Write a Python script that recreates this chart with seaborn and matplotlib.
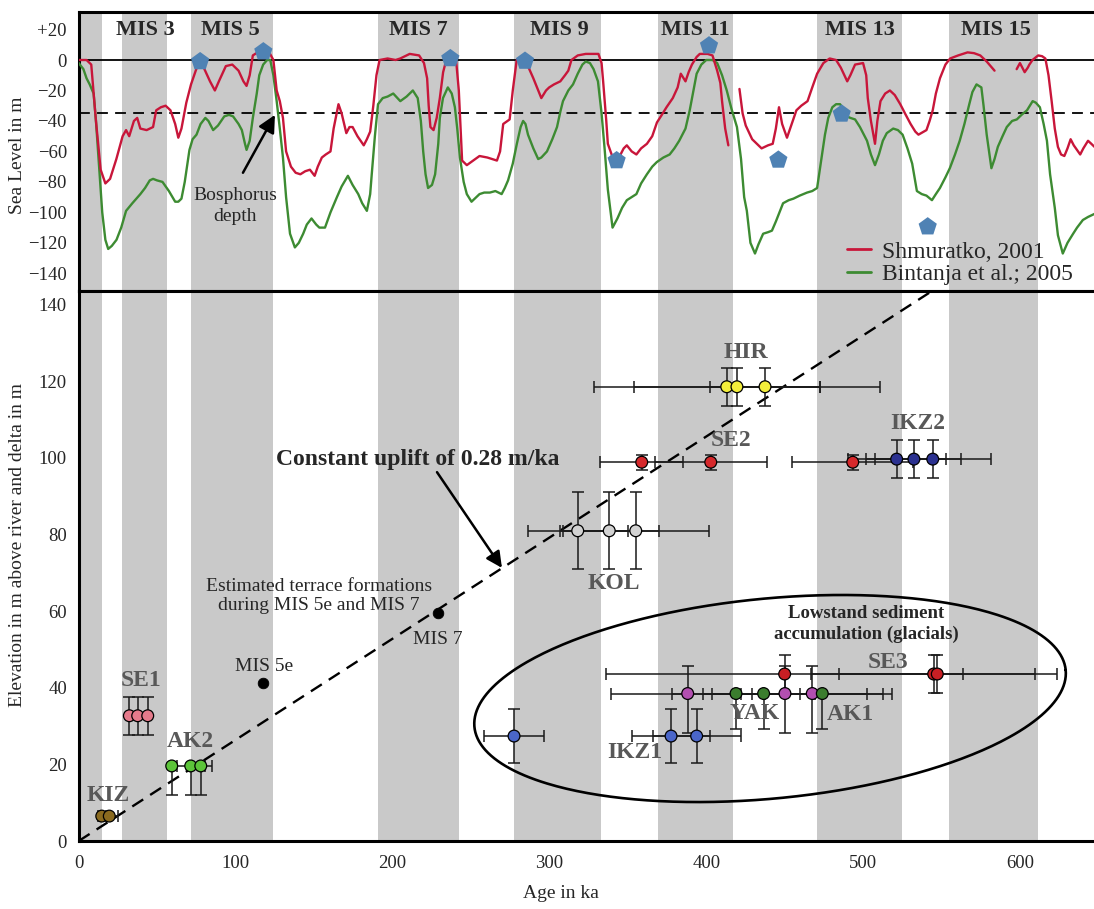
import numpy as np
import pandas as pd
import matplotlib
matplotlib.use("Agg")
import matplotlib.pyplot as plt
from matplotlib.lines import Line2D
from matplotlib.ticker import FixedLocator, FuncFormatter
import seaborn as sns

# ------------------------------------------------------------------ data
mis_band_start = [0, 27.6, 71.6, 190.8, 277.5, 369.3, 470.6, 554.8]
mis_band_end = [14.9, 56.3, 123.9, 242.4, 332.9, 417.1, 524.8, 611.5]
mis_labels = ["MIS 3", "MIS 5", "MIS 7", "MIS 9", "MIS 11", "MIS 13", "MIS 15"]
mis_label_age = [42.3, 96.8, 216.7, 306.5, 393.2, 498.2, 584.6]

# Shmuratko (2001) sea level curve, three segments (gaps in the record)
shm_age_1 = [0, 5, 8, 11, 14, 17, 20, 24, 28, 30.2, 32.2, 35.2, 37.3, 39.3, 43.3, 47.4, 49.4, 52.4,
             55.4, 58.5, 61.5, 63.5, 65.5, 68.6, 71.6, 74.6, 77.2, 79.7, 83.7, 86.8, 89.8, 93.8,
             97.9, 101.9, 105, 107, 109, 111, 114, 118, 122, 124.1, 126.2, 128.2, 130.2, 132.2,
             135.3, 138.3, 141.3, 144.4, 147.4, 150.4, 152.4, 155, 157.5, 160.5, 162.5, 165.6,
             167.6, 170.6, 172.6, 174.6, 177.7, 181.7, 183.7, 185.8, 187.8, 189.8, 191.8, 196.9,
             202, 205, 211, 217, 220.1, 222.1, 223.1, 224.2, 226.2, 228.2, 230.2, 232.3, 234.3,
             237.3, 240.3, 242.3, 244.4, 247.4, 251.4, 255.5, 260.5, 266.6, 268.6, 270.6, 274.7,
             276.7, 279.2, 283.8, 286.8, 289.8, 292.9, 294.9, 297.9, 299.9, 303, 307, 310, 312.1,
             314.1, 318.1, 323.2, 331.3, 333.3, 334.3, 336.3, 337.3, 340.4, 342.4, 345.4, 347.4,
             349.4, 352.5, 355.5, 358.5, 362.2, 365.6, 368.6, 371.7, 374.7, 378.7, 381.8, 383.8,
             386.8, 388.8, 390.9, 393.9, 395.9, 400.9, 404, 407, 409, 410.1, 412.1, 414.1]
shm_sl_1 = [0, 0, -3, -40, -72, -81, -78, -65, -50, -46, -50, -40, -38, -45, -46, -44, -33, -31,
            -30, -33, -42, -51, -45, -28, -16, -7, 0, -5, -14, -20, -13, -4,
            -3, -7, -14, -17, -10, 3, 5, 6, 4, 0, -20, -27, -38, -60,
            -70, -74, -75, -73, -72, -76, -70, -64, -62, -60, -45, -29,
            -35, -48, -44, -44, -50, -56, -52, -47, -30, -10, 0, 1,
            0, 1, 4, 3, -2, -12, -30, -44, -46, -38, -25, -8, 0,
            3, 3, -20, -66, -69, -66, -63, -64, -66, -60, -42, -39,
            -20, 0, 1, -5, -12, -20, -25, -20, -18, -16, -14, -10, -7,
            0, 3, 4, 4, -2, -14, -40, -55, -64, -66, -62, -58,
            -56, -60, -62, -58, -55, -50, -41, -36, -31, -25, -18, -9,
            -14, -8, -3, 2, 4, 4, 3, -7, -15, -27, -45, -56]
shm_age_2 = [421.2, 423.2, 425.2, 429.3, 435.3, 439.4, 442.4, 444.4, 446.4, 448.4, 451.5, 454.5,
             457.5, 460.6, 464.6, 467.6, 470.7, 474.7, 478.7, 482.8, 485.8, 489.9, 491.9, 494.9,
             500, 502, 503, 505, 507.6, 509.1, 511.1, 514.1, 517.1, 520.2, 523.7, 527.2, 530.3,
             533.3, 535.3, 540.4, 542.4, 544.4, 546.4, 549, 552.5, 555.5, 560.6, 566.6, 570.7,
             574.7, 578.8, 583.8]
shm_sl_2 = [-19, -35, -43, -52, -58, -56, -55, -45, -31, -42, -51, -42,
            -33, -30, -27, -18, -9, -2, 1, 0, -5, -14, -10, -3,
            -2, -10, -25, -40, -55, -40, -27, -22, -20, -23, -29, -36, -42,
            -47, -49, -46, -40, -33, -22, -12, -3, 1, 3, 5, 4.5,
            3, -1, -7]
shm_age_3 = [597.9, 600, 602, 603, 605, 606, 608, 611.6, 614.1, 616.2, 618.2, 620.2, 622.2, 624.2,
             626.2, 628.3, 630.3, 632.3, 634.3, 638.4, 640.4, 643.4, 645.5, 647.5]
shm_sl_3 = [-6, -2, -6, -8, -5, -3, 0, 3, 2.5, 1, -10, -27, -45, -57,
            -62, -63, -58, -52, -56, -62, -58, -53, -55, -57]

# Bintanja et al. (2005) sea level curve
bin_age = [0, 3, 5, 7, 9.5, 11, 13, 15, 17, 18.8, 21.1, 24.1, 27.1, 30.2, 34.2, 39.3, 42.3, 45.3,
           47.4, 49.9, 53.4, 57.5, 61.5, 63.5, 65.5, 67.6, 70.6, 72.6, 75.1, 77.7, 80.7, 82.7,
           85.7, 88.8, 92.8, 95.8, 98.4, 101.9, 104, 106, 107, 109, 111, 113.5, 115.1, 117.6,
           120.1, 122.1, 124.1, 126.2, 128.2, 130.2, 132.2, 134.7, 137.8, 140.3, 143.1, 145.4,
           148.4, 151.4, 153.4, 157, 160.5, 164.6, 167.6, 171.6, 174.6, 178.2, 180.7, 183.7,
           185.8, 186.8, 188.8, 190.8, 193.8, 196.9, 200.5, 205, 209, 213, 216.1, 218.1, 219.6,
           221.1, 222.7, 225.2, 227.2, 229.2, 230.2, 232.2, 235.3, 237.8, 239.8, 241.3, 243,
           245.4, 247.4, 250.4, 252.4, 255.5, 258.5, 262.1, 265.6, 269.6, 271.6, 273.7, 276.7,
           279.3, 281.7, 283.3, 284.8, 286.4, 289.8, 292.9, 294.9, 298.5, 301.9, 304.9, 307,
           308.7, 312.1, 315.1, 318.1, 321.1, 323.2, 325.9, 328.2, 331, 333.3, 335.3, 337.3,
           340.3, 343.4, 346.4, 349.4, 352.5, 355.5, 358.5, 362.2, 365.6, 368.5, 372.7, 376.7,
           379.7, 382.8, 386.8, 389.5, 391.9, 393.9, 396.9, 400, 404, 407, 410.1, 413.1, 416.1,
           419.6, 422.2, 424.2, 425.9, 428.2, 431.1, 433.3, 436.3, 439.4, 441.9, 444.4, 447.1,
           449, 452.6, 455.6, 459.6, 464.3, 467.6, 470.7, 472.7, 475.7, 477.8, 480.4, 482.8,
           485.3, 486.8, 489.7, 491.9, 494.9, 498, 502.5, 505, 507.6, 510.1, 512.6, 515.1,
           519.2, 522.2, 525.2, 528.3, 531.3, 534.3, 537.4, 540.4, 543.9, 546.4, 549, 552.5,
           555.3, 558.6, 561.6, 564.6, 567.7, 569.7, 572.3, 575.4, 576.8, 578.8, 581.8, 583.8,
           585.9, 588.9, 591.6, 595, 598, 601, 604.5, 608.1, 610.1, 612.7, 615.1, 617.2, 619.2,
           622.2, 624.2, 627.3, 630.3, 633.9, 636.4, 640.1, 643.4, 647.5]
bin_sl = [-2, -6, -12, -16, -22, -40, -70, -100, -118, -124, -122, -118, -110, -99, -94, -88, -84, -79,
          -78, -79, -80, -86, -93, -93, -91, -80, -59, -52, -49, -42, -38, -40,
          -46, -43, -37, -36, -37, -42, -46, -55, -59, -53, -38, -22, -10, -3,
          0, 0, -10, -27, -45, -64, -90, -114, -123, -120, -114, -108,
          -104, -108, -110, -110, -100, -90, -83, -76, -82, -88, -94, -99,
          -88, -75, -50, -29, -25, -24, -22, -27, -24, -20, -25, -40, -60,
          -75, -84, -82, -75, -55, -38, -25, -18, -22, -31, -45, -64,
          -80, -88, -93, -91, -88, -87, -87, -86, -88, -84, -79, -68,
          -55, -44, -40, -42, -49, -58, -65, -64, -60, -52, -44, -34,
          -27, -20, -16, -9, -3, -1, -2, -6, -14, -35, -59, -85,
          -110, -104, -97, -92, -90, -88, -81, -75, -70, -67, -64, -62,
          -58, -53, -45, -33, -20, -9, -3, 0, 0, -2, -10, -20, -32,
          -44, -65, -90, -99, -120, -127, -121, -114, -113, -112, -106, -99,
          -94, -92, -91, -89, -87, -86, -84, -70, -49, -38, -31, -29,
          -29, -31, -37, -38, -39, -44, -53, -62, -69, -62, -53, -48,
          -45, -46, -49, -58, -68, -86, -88, -89, -92, -88, -84, -77,
          -71, -62, -53, -42, -29, -21, -16, -18, -30, -49, -71, -65,
          -57, -50, -44, -40, -39, -36, -33, -27, -28, -31, -42, -53, -75,
          -97, -115, -127, -120, -114, -110, -105, -103, -101]

# sea-level highstand / lowstand markers (pentagons)
pent_age = [77.4, 117.7, 236.9, 284.5, 342.9, 401.8, 446.0, 486.4, 541.2]
pent_sl = [-1, 5.5, 1, -0.7, -66, 9.4, -65.6, -35.4, -109.4]
bosphorus_depth = -35

# terrace dating points (age ka, elevation m, errors)
pt_group = ["KIZ", "KIZ", "SE1", "SE1", "SE1", "AK2", "AK2", "AK2", "KOL", "KOL", "KOL",
            "SE2", "SE2", "SE2", "HIR", "HIR", "HIR", "IKZ2", "IKZ2", "IKZ2",
            "IKZ1", "IKZ1", "IKZ1", "VIO", "VIO", "VIO", "YAK", "YAK", "AK1",
            "SE3", "SE3", "SE3"]
pt_age = [14.7, 19.5, 32.3, 37.6, 44.0, 59.3, 71.4, 77.8, 318.1, 338.2, 355.1,
          358.9, 402.9, 493.4, 413.1, 419.6, 437.5, 521.4, 532.4, 544.4,
          277.5, 377.6, 393.9, 388.2, 450.2, 467.6, 419.0, 436.6, 474.0,
          450.0, 545.0, 547.3]
pt_elev = [6.5, 6.5, 32.7, 32.7, 32.7, 19.6, 19.6, 19.6, 81, 81, 81,
           98.9, 98.9, 98.9, 118.6, 118.6, 118.6, 99.7, 99.7, 99.7,
           27.4, 27.4, 27.4, 38.5, 38.5, 38.5, 38.5, 38.5, 38.5,
           43.6, 43.6, 43.6]
pt_xerr = [2.5, 5.7, 0, 0, 0, 0, 9, 7, 31.9, 31.6, 46.5,
           26.5, 35.7, 38.5, 59.3, 91.2, 35.1, 31.2, 30.3, 37.0,
           19.4, 24.9, 28.0, 49.1, 52.5, 45.3, 40.6, 32.8, 44.6,
           113.8, 78.4, 62.5]
pt_yerr_lo = [0, 0, 5, 5, 5, 7.6, 7.6, 7.6, 10, 10, 10,
              2, 2, 2, 5, 5, 5, 5, 5, 5,
              7, 7, 7, 10.4, 10.4, 10.4, 9.3, 9.3, 9.3,
              5, 5, 5]
pt_yerr_hi = [0, 0, 5, 5, 5, 0, 0, 0, 10, 10, 10,
              2, 2, 2, 5, 5, 5, 5, 5, 5,
              7, 7, 7, 7.2, 7.2, 7.2, 0, 0, 0,
              5, 5, 5]
group_colors = {"KIZ": "#8a6a1f", "SE1": "#e57a8b", "AK2": "#5cc43a", "KOL": "#d2d2d2",
                "SE2": "#d6282b", "HIR": "#f3ee3a", "IKZ2": "#2b3190", "IKZ1": "#4a66c9",
                "VIO": "#b24fb0", "YAK": "#3b7d2e", "AK1": "#3b7d2e", "SE3": "#c81f24"}

group_label_text = ["KIZ", "SE1", "AK2", "KOL", "SE2", "HIR", "IKZ2", "IKZ1", "YAK", "AK1", "SE3"]
group_label_age = [18.9, 39.8, 70.9, 341.1, 415.7, 425.2, 535.0, 354.7, 431.1, 492.2, 515.7]
group_label_elev = [12.0, 41.8, 26.0, 67.3, 104.5, 127.5, 109.0, 23.1, 33.3, 32.9, 46.5]

est_age = [117.7, 229.2]
est_elev = [41.2, 59.6]
est_label = ["MIS 5e", "MIS 7"]
est_label_age = [118.0, 229.2]
est_label_elev = [45.5, 52.7]

uplift_rate_label = 0.28
uplift_line_slope = 0.264
uplift_line_age = [0, 560]

# ------------------------------------------------------------------ style
sns.set_theme(style="white")
plt.rcParams["font.family"] = ["Liberation Serif", "DejaVu Serif"]
plt.rcParams["axes.unicode_minus"] = True

RED = "#c8163a"
GREEN = "#3d8b32"
BAND = "#c9c9c9"
LABEL_GRAY = "#585858"

W, H = 1094, 909
fig = plt.figure(figsize=(W / 100, H / 100), dpi=100)
left_px, right_px = 78.7, 1094
top_t, top_b = 11.7, 291.0
bot_b = 841.0
ax1 = fig.add_axes([left_px / W, 1 - top_b / H, (right_px - left_px) / W, (top_b - top_t) / H])
ax2 = fig.add_axes([left_px / W, 1 - bot_b / H, (right_px - left_px) / W, (bot_b - top_b) / H])

XMAX = 647.2
for ax in (ax1, ax2):
    ax.set_xlim(0, XMAX)
    for s, e in zip(mis_band_start, mis_band_end):
        ax.axvspan(s, e, color=BAND, lw=0, zorder=0)
    ax.spines["right"].set_visible(False)
    for sp in ("left", "top", "bottom"):
        ax.spines[sp].set_linewidth(2.2)
        ax.spines[sp].set_color("black")
    ax.tick_params(length=0, labelsize=13.5, pad=8.5)
    ax.set_facecolor("white")

# ---------------- top panel
ax1.set_ylim(-151.6, 31.7)
ax1.set_xticks([])
ax1.yaxis.set_major_locator(FixedLocator(list(range(-140, 21, 20))))
ax1.yaxis.set_major_formatter(FuncFormatter(
    lambda v, p: "+%d" % v if v > 0 else ("0" if v == 0 else "\u2212%d" % abs(v))))

ax1.axhline(0, color="black", lw=1.3, zorder=2)
ax1.axhline(bosphorus_depth, color="black", lw=1.3, ls=(0, (6, 4)), zorder=2)

shm_df = pd.DataFrame({
    "age": shm_age_1 + shm_age_2 + shm_age_3,
    "sl": shm_sl_1 + shm_sl_2 + shm_sl_3,
    "seg": [1] * len(shm_age_1) + [2] * len(shm_age_2) + [3] * len(shm_age_3)})
bin_df = pd.DataFrame({"age": bin_age, "sl": bin_sl})
sns.lineplot(data=bin_df, x="age", y="sl", color=GREEN, lw=1.7, estimator=None,
             sort=False, ax=ax1, zorder=3)
sns.lineplot(data=shm_df, x="age", y="sl", units="seg", color=RED, lw=1.7,
             estimator=None, sort=False, ax=ax1, zorder=4)
sns.scatterplot(x=pent_age, y=pent_sl, marker="p", s=190, color="#4f82b4",
                edgecolor="none", ax=ax1, zorder=6, legend=False)

for lab, a in zip(mis_labels, mis_label_age):
    ax1.text(a, 20, lab, ha="center", va="center", fontsize=16, fontweight="bold", zorder=7)

ax1.text(99.9, -95.6, "Bosphorus\ndepth", ha="center", va="center", fontsize=14,
         linespacing=1.3, zorder=7)
ax1.annotate("", xy=(125.1, -36), xytext=(104.7, -74),
             arrowprops=dict(arrowstyle="-|>", color="black", lw=1.8, mutation_scale=26,
                             shrinkA=0, shrinkB=0), zorder=7)

handles = [Line2D([0], [0], color=RED, lw=2), Line2D([0], [0], color=GREEN, lw=2)]
ax1.legend(handles, ["Shmuratko, 2001", "Bintanja et al.; 2005"], loc="lower left",
           bbox_to_anchor=((847 - left_px) / (right_px - left_px), 0.02), frameon=False,
           fontsize=17, handlelength=1.0, handletextpad=0.5, borderpad=0, borderaxespad=0,
           labelspacing=0.05)
ax1.set_xlabel("")
ax1.set_ylabel("")

# ---------------- bottom panel
ax2.set_ylim(0, 143.6)
ax2.xaxis.set_major_locator(FixedLocator(list(range(0, 601, 100))))
ax2.yaxis.set_major_locator(FixedLocator(list(range(0, 141, 20))))
ax2.tick_params(axis="x", pad=10)
ax2.set_xlabel("")
ax2.set_ylabel("")

ux = np.array(uplift_line_age, dtype=float)
sns.lineplot(x=ux, y=uplift_line_slope * ux, color="black", lw=1.7, ls=(0, (5.5, 3.5)),
             ax=ax2, zorder=2, estimator=None)

ax2.errorbar(pt_age, pt_elev, xerr=pt_xerr, yerr=[pt_yerr_lo, pt_yerr_hi], fmt="none",
             ecolor="#1a1a1a", elinewidth=1.1, capsize=4, capthick=1.1, zorder=3)
pts = pd.DataFrame({"age": pt_age, "elev": pt_elev, "group": pt_group})
sns.scatterplot(data=pts, x="age", y="elev", hue="group", palette=group_colors, s=72,
                edgecolor="black", linewidth=0.9, legend=False, ax=ax2, zorder=5)
sns.scatterplot(x=est_age, y=est_elev, color="black", s=58, edgecolor="black",
                legend=False, ax=ax2, zorder=5)
ax2.set_xlabel("")
ax2.set_ylabel("")

for t, a, e in zip(group_label_text, group_label_age, group_label_elev):
    ax2.text(a, e, t, ha="center", va="center", fontsize=17, fontweight="bold",
             color=LABEL_GRAY, zorder=6)
for t, a, e in zip(est_label, est_label_age, est_label_elev):
    ax2.text(a, e, t, ha="center", va="center", fontsize=14, zorder=6)

ax2.text(153.2, 64.0, "Estimated terrace formations\nduring MIS 5e and MIS 7", ha="center",
         va="center", fontsize=14, linespacing=1.2, zorder=6)
ax2.text(216.0, 99.5, "Constant uplift of %.2f m/ka" % uplift_rate_label, ha="center",
         va="center", fontsize=17, fontweight="bold", zorder=6)
ax2.annotate("", xy=(269.8, 71.3), xytext=(228.4, 96.3),
             arrowprops=dict(arrowstyle="-|>", color="black", lw=1.8, mutation_scale=24,
                             shrinkA=0, shrinkB=0), zorder=6)
ax2.text(501.8, 56.7, "Lowstand sediment\naccumulation (glacials)", ha="center", va="center",
         fontsize=13.5, fontweight="bold", linespacing=1.25, zorder=6)

# ellipse enclosing the lowstand deposits (drawn in pixel space)
px_per_ka = (right_px - left_px) / XMAX
px_per_m = (bot_b - top_b) / 143.6
ell_c_age, ell_c_elev = 440.7, 37.2
ell_a, ell_b, ell_ang = 297.0, 100.0, np.deg2rad(5.5)
tt = np.linspace(0, 2 * np.pi, 400)
dx = ell_a * np.cos(tt) * np.cos(ell_ang) - ell_b * np.sin(tt) * np.sin(ell_ang)
dy = ell_a * np.cos(tt) * np.sin(ell_ang) + ell_b * np.sin(tt) * np.cos(ell_ang)
ax2.plot(ell_c_age + dx / px_per_ka, ell_c_elev + dy / px_per_m, color="black", lw=1.9,
         zorder=4)

# axis titles
fig.text(17.5 / W, 1 - 155 / H, "Sea Level in m", rotation=90, ha="center", va="center",
         fontsize=14)
fig.text(17.5 / W, 1 - 545 / H, "Elevation in m above river and delta in m", rotation=90,
         ha="center", va="center", fontsize=14)
fig.text(561 / W, 1 - 893 / H, "Age in ka", ha="center", va="center", fontsize=14)

fig.savefig("out.png", dpi=100)
